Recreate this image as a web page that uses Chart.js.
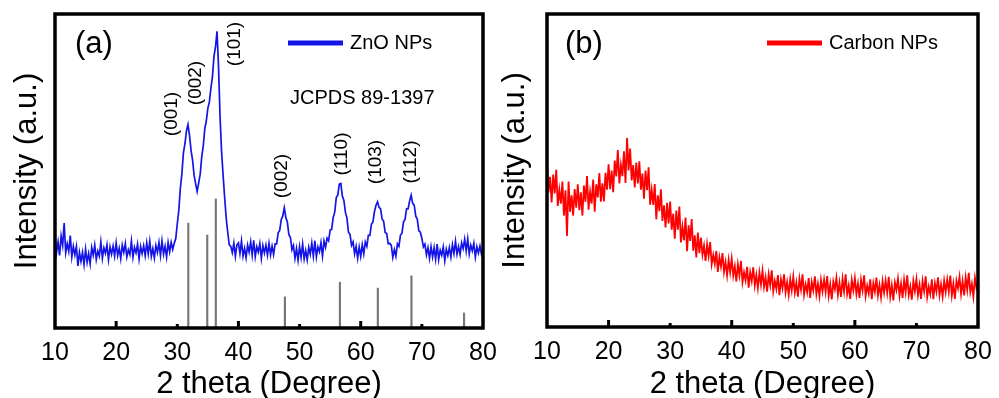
<!DOCTYPE html>
<html>
<head>
<meta charset="utf-8">
<script src="https://cdn.jsdelivr.net/npm/chart.js@4.4.1/dist/chart.umd.min.js"></script>
<style>
  html, body { margin: 0; padding: 0; background: #fff; }
  #wrap { position: relative; width: 999px; height: 398px; }
  canvas { position: absolute; top: 0; }
  #chartA { left: 0; }
  #chartB { left: 500px; }
</style>
</head>
<body>
<div id="wrap">
  <canvas id="chartA" width="500" height="398"></canvas>
  <canvas id="chartB" width="499" height="398"></canvas>
</div>
<script>
// 2 theta grid (degrees), 0.25 deg step
const twoTheta = [
  10, 10.25, 10.5, 10.75, 11, 11.25, 11.5, 11.75, 12, 12.25,
  12.5, 12.75, 13, 13.25, 13.5, 13.75, 14, 14.25, 14.5, 14.75,
  15, 15.25, 15.5, 15.75, 16, 16.25, 16.5, 16.75, 17, 17.25,
  17.5, 17.75, 18, 18.25, 18.5, 18.75, 19, 19.25, 19.5, 19.75,
  20, 20.25, 20.5, 20.75, 21, 21.25, 21.5, 21.75, 22, 22.25,
  22.5, 22.75, 23, 23.25, 23.5, 23.75, 24, 24.25, 24.5, 24.75,
  25, 25.25, 25.5, 25.75, 26, 26.25, 26.5, 26.75, 27, 27.25,
  27.5, 27.75, 28, 28.25, 28.5, 28.75, 29, 29.25, 29.5, 29.75,
  30, 30.25, 30.5, 30.75, 31, 31.25, 31.5, 31.75, 32, 32.25,
  32.5, 32.75, 33, 33.25, 33.5, 33.75, 34, 34.25, 34.5, 34.75,
  35, 35.25, 35.5, 35.75, 36, 36.25, 36.5, 36.75, 37, 37.25,
  37.5, 37.75, 38, 38.25, 38.5, 38.75, 39, 39.25, 39.5, 39.75,
  40, 40.25, 40.5, 40.75, 41, 41.25, 41.5, 41.75, 42, 42.25,
  42.5, 42.75, 43, 43.25, 43.5, 43.75, 44, 44.25, 44.5, 44.75,
  45, 45.25, 45.5, 45.75, 46, 46.25, 46.5, 46.75, 47, 47.25,
  47.5, 47.75, 48, 48.25, 48.5, 48.75, 49, 49.25, 49.5, 49.75,
  50, 50.25, 50.5, 50.75, 51, 51.25, 51.5, 51.75, 52, 52.25,
  52.5, 52.75, 53, 53.25, 53.5, 53.75, 54, 54.25, 54.5, 54.75,
  55, 55.25, 55.5, 55.75, 56, 56.25, 56.5, 56.75, 57, 57.25,
  57.5, 57.75, 58, 58.25, 58.5, 58.75, 59, 59.25, 59.5, 59.75,
  60, 60.25, 60.5, 60.75, 61, 61.25, 61.5, 61.75, 62, 62.25,
  62.5, 62.75, 63, 63.25, 63.5, 63.75, 64, 64.25, 64.5, 64.75,
  65, 65.25, 65.5, 65.75, 66, 66.25, 66.5, 66.75, 67, 67.25,
  67.5, 67.75, 68, 68.25, 68.5, 68.75, 69, 69.25, 69.5, 69.75,
  70, 70.25, 70.5, 70.75, 71, 71.25, 71.5, 71.75, 72, 72.25,
  72.5, 72.75, 73, 73.25, 73.5, 73.75, 74, 74.25, 74.5, 74.75,
  75, 75.25, 75.5, 75.75, 76, 76.25, 76.5, 76.75, 77, 77.25,
  77.5, 77.75, 78, 78.25, 78.5, 78.75, 79, 79.25, 79.5, 79.75,
  80
];

// ZnO NPs intensity (a.u.)
const znoCounts = [
  29.3, 24.0, 27.4, 23.1, 29.3, 26.3, 33.4, 24.0, 26.8, 24.4,
  29.4, 22.6, 26.0, 23.3, 26.0, 19.8, 24.1, 21.2, 24.1, 20.2,
  25.1, 20.9, 23.7, 20.4, 25.6, 23.2, 26.4, 21.8, 24.5, 22.9,
  27.4, 22.2, 25.5, 23.8, 26.5, 21.8, 25.8, 23.5, 26.1, 22.9,
  27.1, 23.1, 25.4, 22.1, 26.4, 24.1, 26.9, 22.6, 24.9, 23.4,
  27.7, 22.5, 25.7, 24.0, 26.7, 22.0, 26.0, 23.7, 26.2, 23.0,
  27.1, 23.6, 27.6, 22.8, 25.3, 22.3, 26.3, 24.1, 27.3, 23.1,
  27.7, 23.5, 26.0, 22.6, 27.2, 24.3, 27.3, 25.0, 27.0, 28.5,
  33.2, 37.5, 44.5, 49.0, 55.8, 58.6, 62.8, 64.8, 61.3, 56.6,
  53.5, 48.6, 46.0, 43.5, 46.2, 49.0, 54.6, 58.0, 63.5, 66.0,
  70.0, 72.0, 76.5, 80.0, 86.5, 89.5, 94.5, 83.0, 67.0, 56.0,
  48.5, 41.5, 35.0, 30.5, 26.5, 26.0, 24.0, 27.0, 22.8, 26.5,
  27.1, 23.7, 27.7, 22.9, 25.4, 22.4, 26.4, 24.2, 27.4, 23.2,
  27.9, 22.7, 25.9, 24.2, 26.9, 22.2, 26.2, 23.9, 26.4, 23.2,
  26.9, 23.3, 26.1, 23.4, 26.8, 26.8, 30.3, 31.1, 34.5, 35.7,
  38.3, 35.2, 33.8, 29.7, 28.9, 24.9, 26.3, 22.2, 25.3, 21.6,
  25.9, 22.5, 26.7, 22.0, 24.7, 21.7, 25.7, 23.5, 27.0, 22.9,
  27.8, 22.6, 25.8, 24.3, 27.2, 22.9, 27.7, 25.7, 28.6, 27.8,
  31.2, 31.4, 35.2, 36.9, 41.5, 42.4, 45.8, 46.0, 42.0, 40.6,
  36.8, 35.0, 30.5, 29.8, 26.3, 27.4, 23.6, 26.0, 22.2, 25.8,
  22.8, 26.5, 23.6, 27.4, 26.0, 29.5, 29.5, 33.0, 33.8, 37.1,
  39.1, 40.2, 38.4, 37.9, 34.7, 34.0, 30.4, 30.1, 26.8, 27.0,
  26.3, 22.5, 25.0, 22.9, 26.8, 26.0, 29.6, 30.2, 33.8, 34.6,
  37.9, 38.0, 40.5, 42.3, 39.7, 39.1, 35.6, 34.7, 31.0, 30.5,
  28.6, 25.8, 26.7, 23.3, 25.6, 22.2, 25.9, 22.6, 25.6, 21.9,
  26.7, 21.8, 24.8, 23.2, 25.8, 21.4, 25.1, 23.1, 25.6, 22.6,
  26.5, 23.7, 27.6, 23.5, 25.9, 23.4, 27.1, 25.3, 28.3, 24.5,
  28.4, 23.6, 26.4, 24.6, 27.0, 22.6, 25.9, 23.9, 26.1, 23.5,
  25.5
];

// Carbon NPs intensity (a.u.)
const carbonCounts = [
  52.0, 43.0, 48.0, 39.8, 48.7, 42.7, 50.2, 38.7, 43.8, 39.4,
  46.5, 35.6, 43.7, 29.1, 46.5, 36.8, 42.1, 35.6, 44.1, 38.1,
  45.6, 37.3, 43.0, 35.6, 45.2, 40.0, 48.2, 37.5, 43.2, 39.4,
  47.1, 36.8, 45.6, 41.4, 49.2, 40.0, 45.9, 40.1, 49.3, 43.9,
  52.0, 44.0, 50.0, 43.1, 53.2, 48.1, 56.5, 45.9, 51.8, 48.2,
  56.1, 46.0, 60.4, 50.0, 57.0, 46.8, 51.7, 44.6, 52.5, 45.9,
  52.9, 43.9, 49.0, 41.0, 50.0, 43.7, 51.0, 39.1, 43.8, 39.0,
  45.7, 34.4, 42.1, 37.0, 44.0, 33.9, 38.9, 31.8, 39.7, 33.1,
  40.1, 31.1, 36.2, 28.2, 37.2, 31.1, 38.5, 27.0, 32.0, 27.7,
  35.0, 24.2, 32.5, 27.5, 34.5, 24.4, 29.3, 22.2, 30.2, 23.6,
  28.6, 23.1, 26.0, 21.1, 26.4, 22.7, 27.1, 20.1, 23.0, 20.2,
  24.3, 17.6, 22.3, 19.3, 23.6, 17.6, 20.7, 16.5, 21.4, 17.5,
  21.8, 16.4, 19.4, 14.6, 20.0, 16.5, 21.1, 14.3, 17.5, 14.9,
  19.2, 12.6, 17.5, 14.7, 19.1, 13.3, 16.6, 12.5, 17.4, 13.6,
  18.0, 12.8, 15.9, 11.3, 16.8, 13.4, 18.1, 11.4, 14.7, 12.2,
  16.6, 10.2, 15.2, 12.4, 16.8, 11.1, 14.3, 10.3, 15.3, 11.7,
  16.1, 11.0, 14.2, 9.7, 15.4, 12.0, 16.8, 10.3, 13.6, 11.1,
  15.6, 9.3, 14.4, 11.7, 16.2, 10.5, 13.8, 9.9, 15.0, 11.4,
  15.1, 11.2, 16.3, 10.0, 13.6, 8.8, 14.5, 12.1, 15.7, 10.3,
  14.1, 9.6, 15.3, 11.4, 16.8, 10.5, 13.2, 9.0, 15.0, 11.7,
  15.6, 10.5, 13.8, 9.3, 15.0, 11.7, 16.5, 9.9, 13.2, 10.8,
  15.2, 8.9, 14.0, 11.3, 15.8, 10.1, 13.4, 9.5, 14.6, 11.0,
  14.8, 10.9, 16.0, 9.7, 13.3, 8.5, 14.2, 11.8, 15.4, 10.0,
  13.8, 9.3, 15.0, 11.1, 16.5, 10.2, 12.9, 8.7, 14.7, 11.4,
  15.3, 10.2, 13.5, 9.0, 14.7, 11.4, 16.2, 9.6, 12.9, 10.5,
  15.2, 8.9, 14.0, 11.3, 15.9, 10.2, 13.6, 9.7, 14.8, 11.2,
  15.2, 11.3, 16.4, 10.1, 13.8, 9.0, 14.8, 12.4, 16.0, 10.6,
  14.6, 10.1, 15.8, 11.9, 17.3, 11.2, 13.8, 9.7, 15.7, 12.4,
  14.0
];

// JCPDS 89-1397 reference lines
const jcpdsAngles = [31.8, 34.9, 36.3, 47.6, 56.6, 62.8, 68.3, 76.9];
const jcpdsCounts = [33.4, 29.6, 41.1, 9.9, 14.6, 12.7, 16.6, 4.8];

// peak labels and where they sit on the 2 theta axis
const hklLabels = ['(001)', '(002)', '(101)', '(002)', '(110)', '(103)', '(112)'];
const hklAngles = [29.1, 33.1, 39.4, 47.1, 56.9, 62.5, 68.2];
const hklTop = [114, 83, 44, 176, 154, 162, 162];

const xTicks = [10, 20, 30, 40, 50, 60, 70, 80];

const FONT = "'Liberation Sans', Arial, Helvetica, sans-serif";

const framePlugin = {
  id: 'frame',
  afterDatasetsDraw(chart) {
    const {ctx, chartArea: a, scales: {x}} = chart;
    ctx.save();
    ctx.strokeStyle = '#000';
    ctx.lineWidth = 3.5;
    ctx.strokeRect(a.left, a.top, a.right - a.left, a.bottom - a.top);
    ctx.lineWidth = 3;
    x.ticks.forEach(t => {
      if (t.value === x.min || t.value === x.max) return;
      const px = x.getPixelForValue(t.value);
      const len = t.value % 20 === 0 ? 7 : 4;
      ctx.beginPath();
      ctx.moveTo(px, a.bottom);
      ctx.lineTo(px, a.bottom - len);
      ctx.stroke();
    });
    ctx.restore();
  }
};

const notesPlugin = {
  id: 'notes',
  afterDraw(chart, args, opts) {
    const {ctx, chartArea: a, scales: {x}} = chart;
    const ds = chart.data.datasets[0];
    ctx.save();
    ctx.fillStyle = '#000';
    ctx.textBaseline = 'middle';
    ctx.textAlign = 'left';
    ctx.font = '31px ' + FONT;
    ctx.fillText(opts.tag, a.left + opts.tagDx, a.top + 30);

    // legend
    ctx.strokeStyle = ds.borderColor;
    ctx.lineWidth = 5;
    ctx.beginPath();
    ctx.moveTo(opts.legendX, a.top + 29);
    ctx.lineTo(opts.legendX + 55, a.top + 29);
    ctx.stroke();
    ctx.font = '20px ' + FONT;
    ctx.fillText(ds.label, opts.legendX + 62, a.top + 29);

    if (opts.hkl) {
      ctx.fillText('JCPDS 89-1397', 290, 98);
      ctx.font = '19px ' + FONT;
      ctx.textAlign = 'center';
      hklLabels.forEach((lab, i) => {
        ctx.save();
        ctx.translate(x.getPixelForValue(hklAngles[i]), hklTop[i]);
        ctx.rotate(-Math.PI / 2);
        ctx.fillText(lab, 0, 0);
        ctx.restore();
      });
    }
    ctx.restore();
  }
};

function pts(xs, ys) {
  return xs.map((v, i) => ({x: v, y: ys[i]}));
}

function makePanel(id, datasets, p) {
  return new Chart(document.getElementById(id), {
    type: 'line',
    data: {datasets: datasets},
    options: {
      responsive: false,
      animation: false,
      events: [],
      layout: {padding: {left: 0, top: 14, right: p.right, bottom: 0}},
      scales: {
        x: {
          type: 'linear',
          min: 10,
          max: 80,
          offset: false,
          afterBuildTicks: s => { s.ticks = xTicks.map(v => ({value: v})); },
          afterFit: s => { s.height = p.xHeight; },
          grid: {display: false},
          border: {display: false},
          ticks: {
            color: '#000',
            font: {family: FONT, size: 25},
            padding: 2,
            maxRotation: 0,
            autoSkip: false
          },
          title: {
            display: true,
            text: '2 theta (Degree)',
            color: '#000',
            font: {family: FONT, size: 31, lineHeight: 0.9},
            padding: {top: 0, bottom: 0}
          }
        },
        y: {
          min: 0,
          max: 100,
          afterFit: s => { s.width = p.yWidth; },
          grid: {display: false},
          border: {display: false},
          ticks: {display: false},
          title: {
            display: true,
            text: 'Intensity (a.u.)',
            color: '#000',
            font: {family: FONT, size: 31, lineHeight: 1},
            padding: {top: p.yTitlePad, bottom: 0}
          }
        }
      },
      plugins: {
        legend: {display: false},
        tooltip: {enabled: false},
        notes: p.notes
      }
    },
    plugins: [framePlugin, notesPlugin]
  });
}

makePanel('chartA', [
  {
    type: 'line',
    label: 'ZnO NPs',
    data: pts(twoTheta, znoCounts),
    borderColor: '#1414e8',
    backgroundColor: '#1414e8',
    borderWidth: 1.7,
    pointRadius: 0,
    tension: 0,
    order: 1
  },
  {
    type: 'bar',
    label: 'JCPDS 89-1397',
    data: pts(jcpdsAngles, jcpdsCounts),
    backgroundColor: '#777777',
    barThickness: 1.5,
    order: 2
  }
], {
  right: 17, xHeight: 70, yWidth: 55, yTitlePad: 11.5,
  notes: {tag: '(a)', tagDx: 20, legendX: 288, hkl: true}
});

makePanel('chartB', [
  {
    type: 'line',
    label: 'Carbon NPs',
    data: pts(twoTheta, carbonCounts),
    borderColor: '#ff0000',
    backgroundColor: '#ff0000',
    borderWidth: 1.8,
    pointRadius: 0,
    tension: 0,
    order: 1
  }
], {
  right: 21, xHeight: 71, yWidth: 47, yTitlePad: 0,
  notes: {tag: '(b)', tagDx: 18, legendX: 267, hkl: false}
});
</script>
</body>
</html>
